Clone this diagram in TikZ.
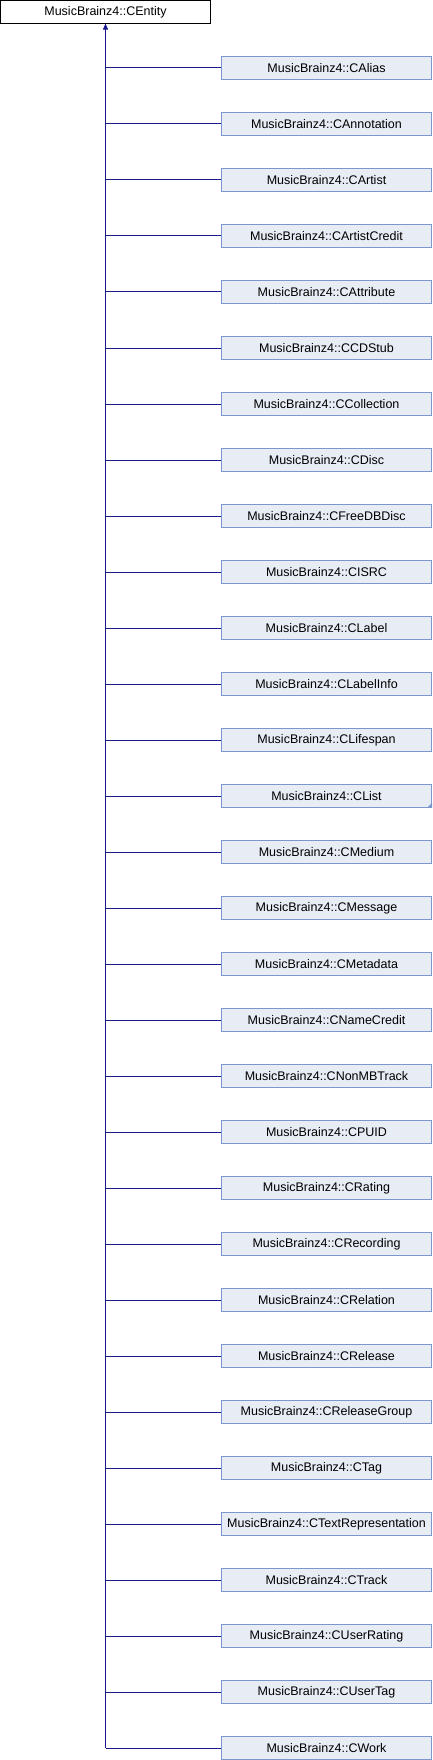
\documentclass[tikz,border=0pt]{standalone}
\usepackage{fontspec}
\setmainfont{Liberation Sans}
\usetikzlibrary{arrows.meta}
\definecolor{boxfill}{RGB}{232,236,245}
\definecolor{boxline}{RGB}{124,150,206}
\definecolor{edgeblue}{RGB}{25,25,140}
\begin{document}
\begin{tikzpicture}[x=1pt, y=1pt, line cap=butt, line join=miter,
    classbox/.style={draw=boxline, fill=boxfill, line width=1pt, inner sep=0pt,
      minimum width=210pt, minimum height=22.6pt, anchor=west,
      font=\fontsize{12.5}{14}\selectfont},
    rootbox/.style={draw=black, fill=white, line width=1pt, inner sep=0pt,
      minimum width=210pt, minimum height=22.6pt,
      font=\fontsize{12.5}{14}\selectfont},
    edge/.style={draw=edgeblue, line width=1pt}]
  \useasboundingbox (0, 0) rectangle (432, -1760);
  %--- base class
    \node[rootbox] (entity) at (105.5, -11.8) {MusicBrainz4::CEntity};
  %--- derived classes
    \foreach \cls [count=\i from 0] in {CAlias, CAnnotation, CArtist, CArtistCredit,
        CAttribute, CCDStub, CCollection, CDisc, CFreeDBDisc, CISRC, CLabel,
        CLabelInfo, CLifespan, CList, CMedium, CMessage, CMetadata, CNameCredit,
        CNonMBTrack, CPUID, CRating, CRecording, CRelation, CRelease,
        CReleaseGroup, CTag, CTextRepresentation, CTrack, CUserRating,
        CUserTag, CWork}
    {
      \node[classbox] (c\i) at (221, -68 - 56*\i) {MusicBrainz4::\cls};
      \draw[edge] (c\i.west) -- (c\i.west -| entity.south);
    }
  %--- trunk
    \draw[edge, -{Triangle[length=6pt, width=5pt]}] (c30.west -| entity.south) -- (entity.south);
  %--- marker on CList
    \fill[boxline] (c13.south east) -- ++(-5, 0) -- ++(5, 5) -- cycle;
\end{tikzpicture}
\end{document}
